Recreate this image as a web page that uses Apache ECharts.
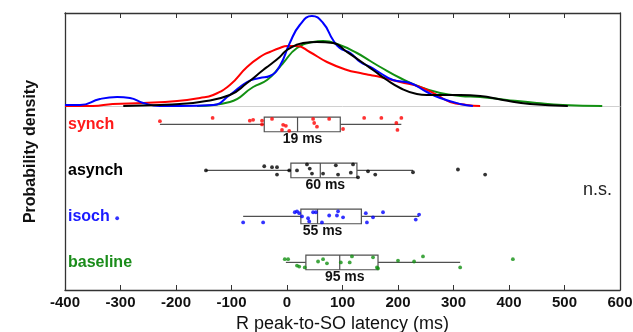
<!DOCTYPE html>
<html><head><meta charset="utf-8">
<script src="https://cdn.jsdelivr.net/npm/echarts@6/dist/echarts.min.js"></script>
<style>html,body{margin:0;padding:0;background:#fff}#c{width:633px;height:332px}</style>
</head><body><div id="c"></div>
<script>
// ---------- data ----------
const groups = ['synch', 'asynch', 'isoch', 'baseline'];
const groupColors = ['#ff1a1a', '#000000', '#1a1aff', '#1a8c1a'];
const curveColors = ['#ff0000', '#000000', '#0000ff', '#129012'];
const xTickMin = -400, xTickMax = 600, xTickStep = 100;

// kernel density curves [latency ms, relative density]
const densSynch = [[-400,0],[-350,0],[-314,0.02],[-259,0.03],[-198,0.05],[-157,0.08],[-133,0.11],[-103,0.21],[-72,0.39],[-43,0.51],[-31,0.54],[-13,0.58],[0,0.60],[18,0.60],[41,0.54],[72,0.44],[108,0.36],[132,0.33],[150,0.31],[168,0.29],[204,0.24],[240,0.19],[270,0.11],[294,0.04],[324,0.01],[348,0]];
const densAsynch = [[-295,0],[-229,0.01],[-193,0.02],[-157,0.04],[-103,0.11],[-72,0.23],[-43,0.36],[-31,0.41],[-13,0.49],[0,0.56],[29,0.63],[54,0.64],[83,0.63],[108,0.54],[132,0.45],[155,0.36],[180,0.26],[204,0.18],[234,0.12],[252,0.11],[312,0.11],[348,0.10],[389,0.06],[438,0.02],[506,0]];
const densIsoch = [[-400,0.01],[-373,0.01],[-337,0.07],[-306,0.09],[-283,0.08],[-259,0.03],[-229,0],[-193,0],[-133,0.01],[-103,0.11],[-72,0.24],[-49,0.28],[-31,0.30],[-13,0.40],[5,0.63],[23,0.81],[45,0.90],[65,0.83],[83,0.66],[95,0.58],[114,0.53],[132,0.44],[150,0.39],[168,0.33],[191,0.26],[222,0.23],[252,0.14],[276,0.08],[312,0.02],[335,0]];
const densBaseline = [[-162,0],[-103,0.04],[-61,0.19],[-36,0.26],[-13,0.39],[-7,0.43],[18,0.58],[47,0.64],[65,0.65],[95,0.61],[126,0.53],[150,0.45],[168,0.39],[204,0.28],[240,0.19],[276,0.13],[312,0.10],[348,0.09],[396,0.06],[450,0.03],[497,0.01],[568,0]];

// box statistics [whisker low, q1, median, q3, whisker high]
const boxSynch = [-229, -41, 19, 96, 206];
const boxAsynch = [-146, 7, 60, 126, 227];
const boxIsoch = [-79, 25, 55, 134, 238];
const boxBaseline = [-2, 34, 95, 164, 312];

// individual subjects [latency ms, vertical jitter in row units]
const ptsSynch = [[-229,-0.07],[-134,-0.14],[-67,-0.08],[-61,-0.1],[-45,-0.08],[-45,0],[-27,-0.12],[-7,0.01],[-2,0.03],[-9,0.12],[4,0.14],[47,-0.12],[49,-0.03],[54,0.05],[76,-0.12],[101,0.1],[139,-0.14],[170,-0.14],[206,-0.14],[197,-0.03],[199,0.12]];
const ptsAsynch = [[-146,0],[-41,-0.09],[-27,-0.07],[-18,-0.07],[-18,0.09],[4,0],[18,0],[36,-0.13],[41,-0.04],[45,0.07],[65,0.07],[88,-0.11],[92,0.09],[115,0.05],[119,-0.13],[128,0.15],[146,0.02],[159,0.09],[227,0.04],[308,-0.02],[357,0.09]];
const ptsIsoch = [[-306,0.04],[-79,0.13],[-43,0.13],[14,-0.09],[18,-0.11],[22,-0.07],[27,0],[38,0.04],[40,0.11],[47,-0.09],[52,-0.09],[63,0.13],[76,-0.02],[90,-0.02],[92,-0.11],[101,0.02],[142,-0.07],[144,0.13],[155,0.02],[173,-0.09],[232,0.07],[238,-0.04]];
const ptsBaseline = [[-4,-0.07],[2,-0.07],[18,0.07],[22,0.09],[32,0.11],[56,-0.02],[65,-0.07],[72,0.02],[97,0],[113,0],[117,-0.13],[155,-0.11],[162,0.11],[164,0.13],[200,-0.04],[229,-0.02],[245,-0.13],[312,0.11],[407,-0.07]];

const xTitle = 'R peak-to-SO latency (ms)';
const yTitle = 'Probability density';
const sigText = 'n.s.';

// ---------- chart ----------
const FONT = 'Liberation Sans, Arial, sans-serif';
const dens = [densSynch, densAsynch, densIsoch, densBaseline];
const boxes = [boxSynch, boxAsynch, boxIsoch, boxBaseline];
const pts = [ptsSynch, ptsAsynch, ptsIsoch, ptsBaseline];

const G = {left: 65, right: 13, outerBoundsMode: 'none'};
const frameCol = '#333';

const boxData = boxes.map((b, i) => [i + 1].concat(b));

function renderBox(params, api) {
  const row = api.value(0);
  const lo = api.value(1), q1 = api.value(2), med = api.value(3), q3 = api.value(4), hi = api.value(5);
  const pLo = api.coord([lo, row]), pQ1 = api.coord([q1, row]), pMed = api.coord([med, row]);
  const pQ3 = api.coord([q3, row]), pHi = api.coord([hi, row]);
  const pLeft = api.coord([xTickMin, row]);
  const hh = Math.abs(api.size([0, 0.16])[1]);
  const ls = {stroke: '#505050', lineWidth: 1.2, fill: null};
  const idx = params.dataIndex;
  return {
    type: 'group',
    children: [
      {type: 'line', shape: {x1: pLo[0], y1: pLo[1], x2: pQ1[0], y2: pQ1[1]}, style: ls},
      {type: 'line', shape: {x1: pQ3[0], y1: pQ3[1], x2: pHi[0], y2: pHi[1]}, style: ls},
      {type: 'rect', shape: {x: pQ1[0], y: pQ1[1] - hh, width: pQ3[0] - pQ1[0], height: 2 * hh}, style: {stroke: '#505050', lineWidth: 1.2, fill: '#fff'}},
      {type: 'line', shape: {x1: pMed[0], y1: pMed[1] - hh, x2: pMed[0], y2: pMed[1] + hh}, style: ls},
      {type: 'text', x: pMed[0] + 5, y: pMed[1] + 15, style: {text: Math.round(med) + ' ms', font: 'bold 14px ' + FONT, fill: '#111', align: 'center', verticalAlign: 'middle'}},
      {type: 'text', x: pLeft[0] + 3, y: pLeft[1], style: {text: groups[idx], font: 'bold 16px ' + FONT, fill: groupColors[idx], align: 'left', verticalAlign: 'middle'}}
    ]
  };
}

const series = [];
[3, 0, 2, 1].forEach(i => {
  series.push({
    type: 'line', name: groups[i] + ' density', xAxisIndex: 1, yAxisIndex: 2,
    data: dens[i], smooth: 0.5, symbol: 'none', z: 3,
    lineStyle: {color: curveColors[i], width: 2}
  });
});
series.push({
  type: 'custom', xAxisIndex: 3, yAxisIndex: 3, data: boxData, renderItem: renderBox, z: 4,
  encode: {x: [1, 2, 3, 4, 5], y: 0}
});
pts.forEach((p, i) => {
  series.push({
    type: 'scatter', xAxisIndex: 3, yAxisIndex: 3, z: 5,
    data: p.map(d => [d[0], i + 1 + d[1]]),
    symbolSize: 3.8, itemStyle: {color: curveColors[i]}
  });
});

const chart = echarts.init(document.getElementById('c'), null, {renderer: 'canvas'});
chart.setOption({
  animation: false,
  backgroundColor: '#fff',
  textStyle: {fontFamily: FONT},
  grid: [
    Object.assign({top: 13, bottom: 42}, G),
    Object.assign({top: 13, height: 93}, G),
    Object.assign({top: 106, bottom: 42}, G)
  ],
  xAxis: [
    {gridIndex: 0, type: 'value', min: xTickMin, max: xTickMax, show: false},
    {gridIndex: 1, type: 'value', position: 'top', min: xTickMin, max: xTickMax, interval: xTickStep,
      axisLine: {onZero: false, lineStyle: {color: frameCol, width: 1.3}}, axisTick: {inside: true, length: 5, lineStyle: {color: frameCol}},
      axisLabel: {show: false}, splitLine: {show: false}},
    {gridIndex: 1, type: 'value', position: 'bottom', min: xTickMin, max: xTickMax,
      axisLine: {onZero: false, lineStyle: {color: '#d0d0d0', width: 1}}, axisTick: {show: false},
      axisLabel: {show: false}, splitLine: {show: false}},
    {gridIndex: 2, type: 'value', position: 'bottom', min: xTickMin, max: xTickMax, interval: xTickStep,
      axisLine: {onZero: false, lineStyle: {color: frameCol, width: 1.3}}, axisTick: {inside: true, length: 5, lineStyle: {color: frameCol}},
      axisLabel: {margin: 5, color: '#111', fontWeight: 'bold', fontSize: 15, fontFamily: FONT},
      splitLine: {show: false},
      name: xTitle, nameLocation: 'middle', nameGap: 22,
      nameTextStyle: {fontSize: 18, color: '#111', fontFamily: FONT}}
  ],
  yAxis: [
    {gridIndex: 0, type: 'value', position: 'left', min: 0, max: 1,
      axisLine: {show: true, onZero: false, lineStyle: {color: frameCol, width: 1.3}}, axisTick: {show: false}, axisLabel: {show: false}, splitLine: {show: false},
      name: yTitle, nameLocation: 'middle', nameGap: 26,
      nameTextStyle: {fontSize: 16, fontWeight: 'bold', color: '#111', fontFamily: FONT}},
    {gridIndex: 0, type: 'value', position: 'right', min: 0, max: 1,
      axisLine: {show: true, onZero: false, lineStyle: {color: frameCol, width: 1.3}}, axisTick: {show: false}, axisLabel: {show: false}, splitLine: {show: false}},
    {gridIndex: 1, type: 'value', min: 0, max: 0.93, show: false},
    {gridIndex: 2, type: 'value', min: 0.6, max: 4.6, inverse: true, show: false}
  ],
  graphic: [
    {type: 'text', left: 583, top: 181, style: {text: sigText, font: '18px ' + FONT, fill: '#222'}}
  ],
  series: series
});
</script></body></html>
